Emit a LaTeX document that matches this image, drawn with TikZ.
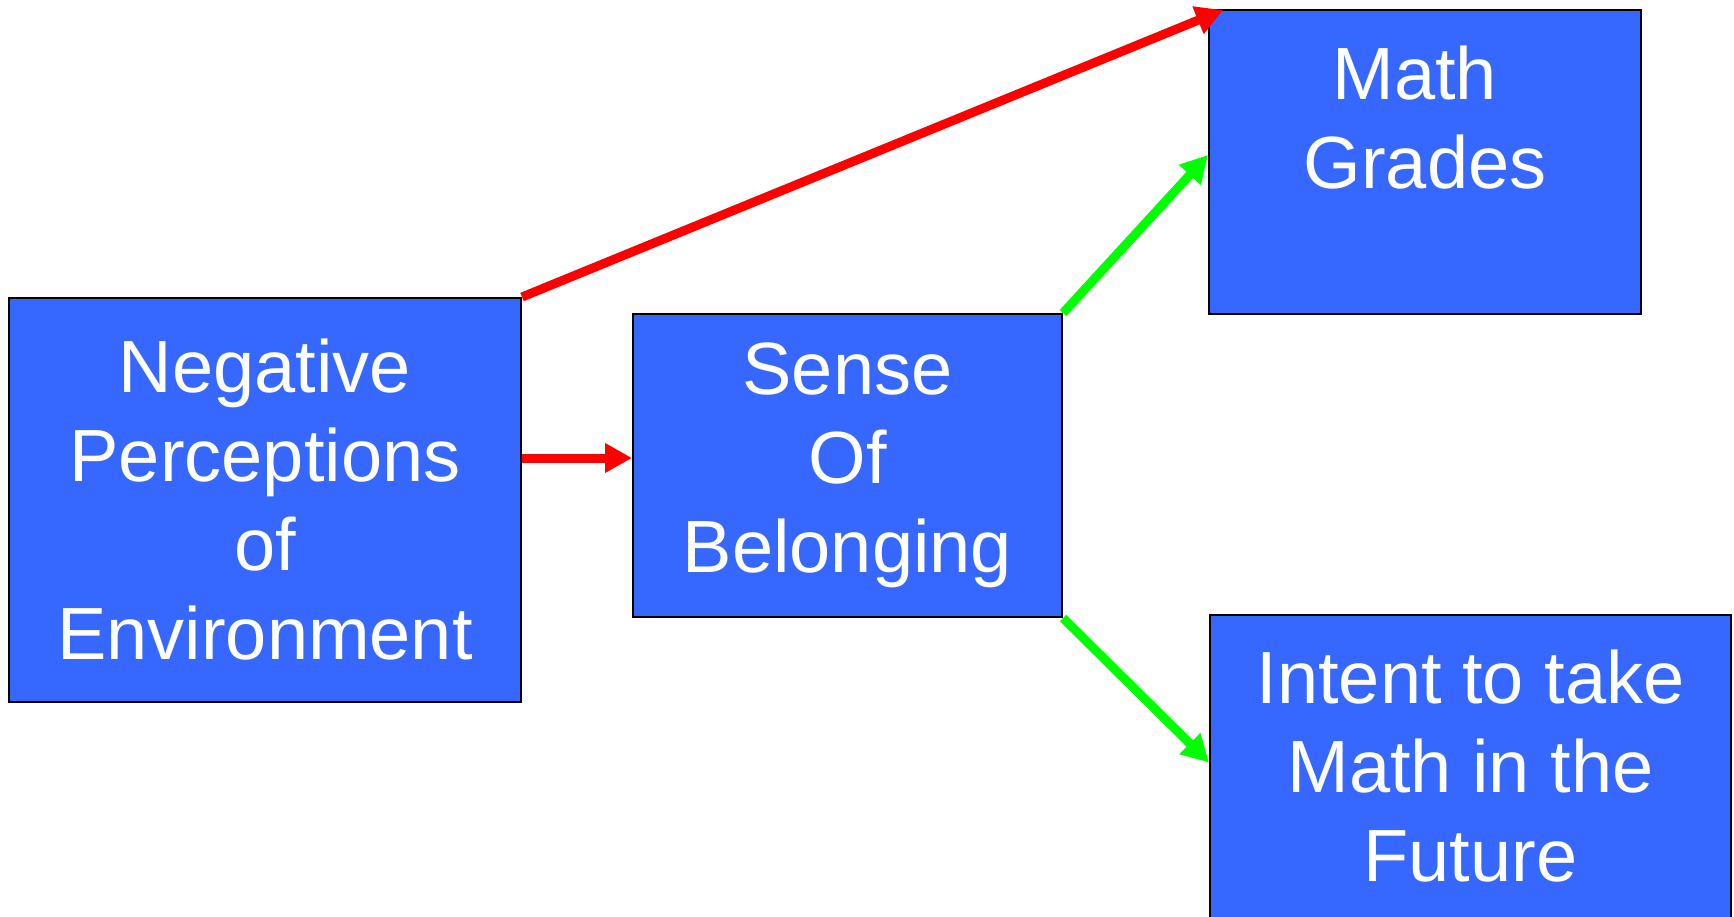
\documentclass[tikz,border=0pt]{standalone}
\usepackage{fontspec}
\setmainfont{Liberation Sans}
\usetikzlibrary{arrows.meta,calc}
\definecolor{boxblue}{RGB}{54,104,255}
\definecolor{arrred}{RGB}{255,0,0}
\definecolor{arrgreen}{RGB}{0,255,0}
\tikzset{
  box/.style={draw=black, line width=2pt, fill=boxblue, text=white, align=center,
    font=\fontsize{74}{89}\selectfont, inner sep=0pt},
  redarrow/.style={draw=arrred, line width=9pt, -{Triangle[length=27pt,width=28pt]}},
  greenarrow/.style={draw=arrgreen, line width=9pt, -{Triangle[length=27pt,width=28pt]}}
}
\begin{document}
\begin{tikzpicture}[x=1pt,y=-1pt]
\useasboundingbox (0,0) rectangle (1734,917);
\node[box, minimum width=512pt, minimum height=404pt] (A) at (265,500)
  {Negative\\Perceptions\\of\\Environment};
\node[box, minimum width=429pt, minimum height=303pt] (B) at (847.5,465.5)
  {Sense\\Of\\Belonging};
\node[box, minimum width=432pt, minimum height=304pt] (C) at (1425,162)
  {Math\mbox{ }\\Grades\\\mbox{}};
\node[box, minimum width=521pt, minimum height=303pt] (D) at (1470.5,766.5)
  {Intent to take\\Math in the\\Future};
\coordinate (ctip) at ($(C.north west)+(15,1)$);
\coordinate (cgreen) at ($(C.west)+(0,-7)$);
\coordinate (dgreen) at ($(D.west)+(0,-4)$);
\coordinate (midy) at (0,458);
\draw[redarrow] (A.north east) -- (ctip);
\draw[redarrow] (A.east |- midy) -- (B.west |- midy);
\draw[greenarrow] (B.north east) -- (cgreen);
\draw[greenarrow] (B.south east) -- (dgreen);
\end{tikzpicture}
\end{document}
